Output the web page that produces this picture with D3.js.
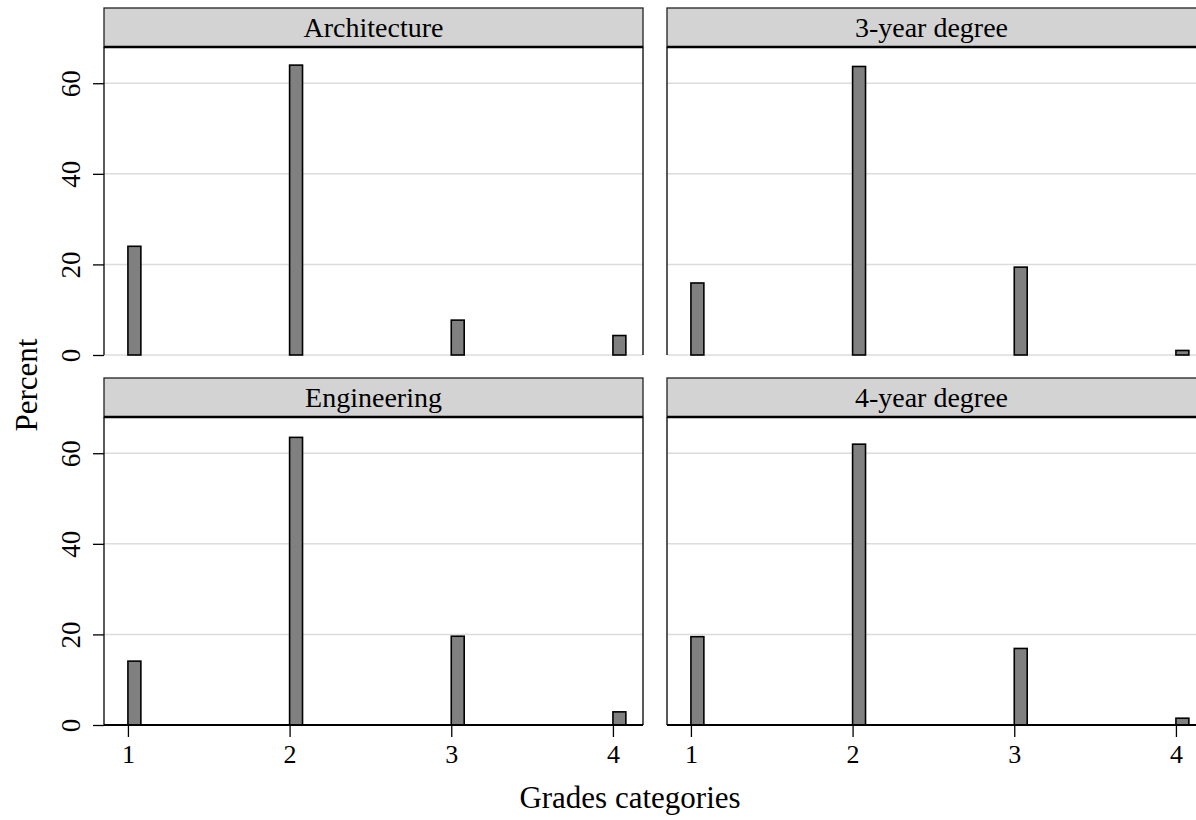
<!DOCTYPE html>
<html>
<head>
<meta charset="utf-8">
<script src="https://cdn.jsdelivr.net/npm/d3@7"></script>
<style>
  body { margin: 0; background: #fff; }
  svg { display: block; font-family: "Liberation Serif", "Times New Roman", serif; }
</style>
</head>
<body>
<svg id="chart" width="1196" height="820"></svg>
<script>
const grades = [1, 2, 3, 4];
const panelTitles = ['Architecture', '3-year degree', 'Engineering', '4-year degree'];
const architecture = [24.0, 64.0, 7.7, 4.3];
const threeYear = [15.9, 63.7, 19.4, 1.0];
const engineering = [14.1, 63.5, 19.6, 2.9];
const fourYear = [19.5, 62.0, 16.9, 1.5];
const yTicks = [0, 20, 40, 60];
const xTicks = [1, 2, 3, 4];

const series = [architecture, threeYear, engineering, fourYear];

const svg = d3.select('#chart');

// layout of the 2x2 grid
const colLeft = [104, 667];
const panelW = 539;
const headTop = [8, 378];
const headH = 39;
const plotBottom = [355, 725];
const barW = 0.08;

panelTitles.forEach((title, i) => {
  const col = i % 2;
  const row = Math.floor(i / 2);
  const x0 = colLeft[col];
  const x1 = x0 + panelW;
  const top = headTop[row] + headH;

  const x = d3.scaleLinear().domain([0.852, 4.186]).range([x0, x1]);
  const y = d3.scaleLinear().domain([0, 68]).range([plotBottom[row], top]);

  const g = svg.append('g');

  // gridlines
  g.selectAll('line.grid')
    .data(yTicks)
    .join('line')
    .attr('class', 'grid')
    .attr('x1', x0)
    .attr('x2', x1)
    .attr('y1', d => y(d))
    .attr('y2', d => y(d))
    .attr('stroke', '#dcdcdc')
    .attr('stroke-width', 1.5);

  // bars
  g.selectAll('rect.bar')
    .data(grades.map((gr, k) => ({ gr, v: series[i][k] })))
    .join('rect')
    .attr('class', 'bar')
    .attr('x', d => x(d.gr))
    .attr('y', d => y(d.v))
    .attr('width', d => x(d.gr + barW) - x(d.gr))
    .attr('height', d => y(0) - y(d.v))
    .attr('fill', '#808080')
    .attr('stroke', '#000')
    .attr('stroke-width', 1.6);

  // panel side borders
  g.append('line')
    .attr('x1', x0).attr('x2', x0)
    .attr('y1', top).attr('y2', plotBottom[row])
    .attr('stroke', '#000').attr('stroke-width', 1.3);
  g.append('line')
    .attr('x1', x1).attr('x2', x1)
    .attr('y1', top).attr('y2', plotBottom[row])
    .attr('stroke', '#000').attr('stroke-width', 1.3);

  // header strip
  g.append('rect')
    .attr('x', x0)
    .attr('y', headTop[row])
    .attr('width', panelW)
    .attr('height', headH)
    .attr('fill', '#d3d3d3')
    .attr('stroke', '#222')
    .attr('stroke-width', 1.3);
  g.append('line')
    .attr('x1', x0).attr('x2', x1)
    .attr('y1', top).attr('y2', top)
    .attr('stroke', '#000').attr('stroke-width', 2.5);
  g.append('text')
    .attr('x', (x0 + x1) / 2 - (col === 1 ? 5 : 0))
    .attr('y', headTop[row] + headH / 2 + 9)
    .attr('text-anchor', 'middle')
    .style('font-size', '28px')
    .text(title);

  // y axis on the left column
  if (col === 0) {
    const ya = g.append('g')
      .attr('transform', `translate(${x0},0)`)
      .call(d3.axisLeft(y).tickValues(yTicks).tickSize(11).tickPadding(20));
    ya.select('.domain').remove();
    ya.selectAll('.tick line').attr('stroke', '#000').attr('stroke-width', 1.3);
    ya.selectAll('.tick text')
      .attr('transform', 'rotate(-90)')
      .attr('x', 0)
      .attr('y', -24)
      .attr('dy', 0)
      .attr('text-anchor', 'middle')
      .style('font-size', '27px')
      .style('font-family', '"Liberation Serif", serif')
      .attr('fill', '#000');
  }

  // x axis on the bottom row
  if (row === 1) {
    const xa = g.append('g')
      .attr('transform', `translate(0,${plotBottom[row]})`)
      .call(d3.axisBottom(x).tickValues(xTicks).tickFormat(d3.format('d')).tickSize(12).tickPadding(8));
    xa.select('.domain').attr('stroke', '#000').attr('stroke-width', 2.2)
      .attr('d', `M${x0},0H${x1}`);
    xa.selectAll('.tick line').attr('stroke', '#000').attr('stroke-width', 1.3);
    xa.selectAll('.tick text')
      .style('font-size', '26px')
      .style('font-family', '"Liberation Serif", serif')
      .attr('fill', '#000');
  }
});

// axis titles
svg.append('text')
  .attr('x', 630)
  .attr('y', 808)
  .attr('text-anchor', 'middle')
  .style('font-size', '31px')
  .text('Grades categories');

svg.append('text')
  .attr('transform', 'translate(37,385) rotate(-90)')
  .attr('text-anchor', 'middle')
  .style('font-size', '31px')
  .text('Percent');
</script>
</body>
</html>
